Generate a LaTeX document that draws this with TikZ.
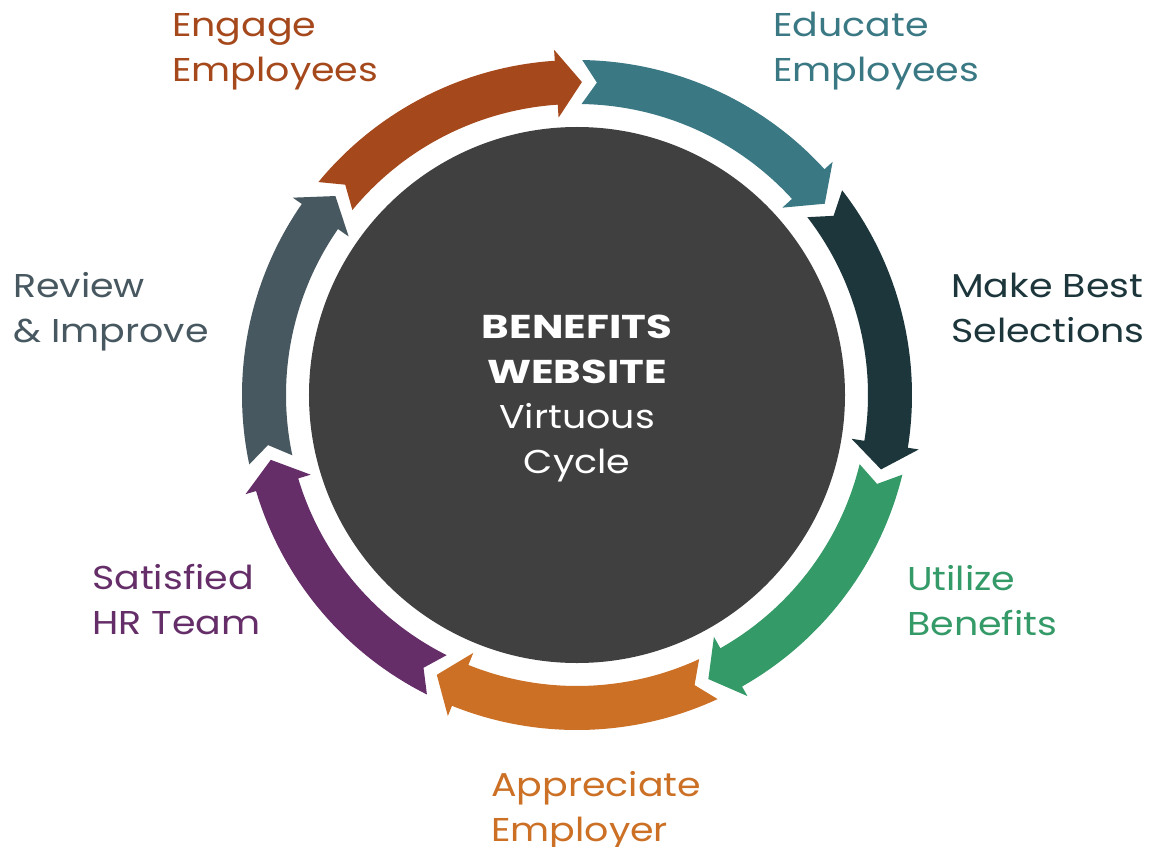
\documentclass[tikz,border=0pt]{standalone}
\usepackage{fontspec}
\setmainfont{Poppins}[FakeStretch=1.15, BoldFeatures={FakeStretch=1.27}]
\definecolor{cEngage}{RGB}{165,72,27}
\definecolor{cEducate}{RGB}{58,120,132}
\definecolor{cSelect}{RGB}{28,54,59}
\definecolor{cUtilize}{RGB}{52,154,104}
\definecolor{cAppreciate}{RGB}{203,112,37}
\definecolor{cSatisfied}{RGB}{101,46,104}
\definecolor{cReview}{RGB}{72,88,96}
\definecolor{cHub}{RGB}{64,64,64}
\newcommand{\cyclearrow}[3]{%
  % #1 name, #2 colour, #3 tip angle
  \pgfmathsetmacro{\tipA}{#3}
  \pgfmathsetmacro{\tailA}{#3+51.4286}
  \pgfmathsetmacro{\headA}{#3+4.7}
  \pgfmathsetmacro{\notchA}{#3+51.4286-2.75}
  \path[fill=#2] (\tailA:335) arc[start angle=\tailA, end angle=\headA, radius=335]
    -- (\headA:346) -- (\tipA:313) coordinate (#1) -- (\headA:278) -- (\headA:291)
    arc[start angle=\headA, end angle=\tailA, radius=291]
    -- (\notchA:313) -- cycle;
}
\tikzset{
  lbl/.style={anchor=base west, inner sep=0pt, align=left, font=\fontsize{33}{45}\selectfont},
  hubtext/.style={anchor=base, inner sep=0pt, align=center, text=white, font=\fontsize{33}{45}\selectfont}
}
\begin{document}
\begin{tikzpicture}[x=1pt,y=1pt]
\useasboundingbox[fill=white] (-577,-451) rectangle (578,395);
\node[circle, fill=cHub, minimum size=536pt, inner sep=0pt] (hub) at (0,0) {};
\cyclearrow{aEngage}{cEngage}{89.1}
\cyclearrow{aEducate}{cEducate}{89.1-51.4286}
\cyclearrow{aSelect}{cSelect}{89.1-2*51.4286}
\cyclearrow{aUtilize}{cUtilize}{89.1-3*51.4286}
\cyclearrow{aAppreciate}{cAppreciate}{89.1-4*51.4286}
\cyclearrow{aSatisfied}{cSatisfied}{89.1-5*51.4286}
\cyclearrow{aReview}{cReview}{89.1-6*51.4286}
\node[hubtext] (title) at (0,-78) {\textbf{BENEFITS}\\\textbf{WEBSITE}\\Virtuous\\Cycle};
\node[lbl, text=cEngage] (tEngage) at (-405,313) {Engage\\Employees};
\node[lbl, text=cEducate] (tEducate) at (196,313) {Educate\\Employees};
\node[lbl, text=cSelect] (tSelect) at (374,53) {Make Best\\Selections};
\node[lbl, text=cUtilize] (tUtilize) at (330,-240) {Utilize\\Benefits};
\node[lbl, text=cAppreciate] (tAppreciate) at (-86,-446) {Appreciate\\Employer};
\node[lbl, text=cSatisfied] (tSatisfied) at (-485,-239) {Satisfied\\HR Team};
\node[lbl, text=cReview] (tReview) at (-564,53) {Review\\\& Improve};
\end{tikzpicture}
\end{document}
